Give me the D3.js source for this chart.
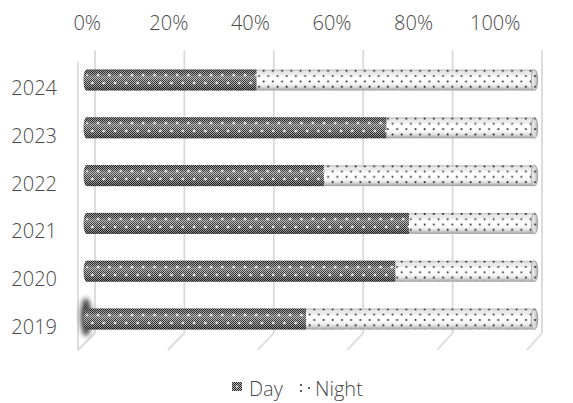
<!DOCTYPE html>
<html><head><meta charset="utf-8">
<script src="https://cdn.jsdelivr.net/npm/d3@7"></script>
<style>html,body{margin:0;padding:0;background:#fff;} svg{display:block;}</style>
</head><body>
<svg id="chart" width="573" height="403"></svg>
<script>
// Share of Day vs Night per year (percent of total)
const years = ["2019", "2020", "2021", "2022", "2023", "2024"];
const daySharePct = [49, 69, 72, 53, 67, 38];
const nightSharePct = [51, 31, 28, 47, 33, 62];
const pctTicks = [0, 20, 40, 60, 80, 100];
const seriesNames = ["Day", "Night"];

const svg = d3.select("#chart");
const FONT = "'Open Sans', Lato, sans-serif";
const FONT_SIZE = "20px";
const FONT_WEIGHT = 300;
const TEXT = "#484848";
const GRID = "#d9d9d9";

// 3D box: front plane, back wall, bars halfway in depth
const xFront = d3.scaleLinear().domain([0, 100]).range([78, 527]);
const xBack = d3.scaleLinear().domain([0, 100]).range([95, 542]);
const xBar = v => (xFront(v) + xBack(v)) / 2;
const xLabel = d3.scaleLinear().domain([0, 100]).range([86.7, 494.7]);
const rowOrder = years.slice().reverse();
const yFront = d3.scalePoint().domain(rowOrder).range([88, 327]);
const depthDy = -8;
const barH = 21;
const backTop = 50, backBottom = 333, frontTop = 62, frontBottom = 350;

// ---------- defs ----------
const defs = svg.append("defs");

const checker = defs.append("pattern").attr("id", "checker")
  .attr("patternUnits", "userSpaceOnUse").attr("width", 2).attr("height", 2);
checker.append("rect").attr("width", 2).attr("height", 2).attr("fill", "#b4b4b4");
checker.append("rect").attr("x", 0).attr("y", 0).attr("width", 1).attr("height", 1).attr("fill", "#2a2a2a");
checker.append("rect").attr("x", 1).attr("y", 1).attr("width", 1).attr("height", 1).attr("fill", "#2a2a2a");

const dayDots = defs.append("pattern").attr("id", "dayDots")
  .attr("patternUnits", "userSpaceOnUse").attr("width", 11.3).attr("height", 16);
dayDots.append("circle").attr("cx", 2).attr("cy", 3).attr("r", 1.3).attr("fill", "#fff");
dayDots.append("circle").attr("cx", 7.65).attr("cy", 11).attr("r", 1.3).attr("fill", "#fff");

const nightDots = defs.append("pattern").attr("id", "nightDots")
  .attr("patternUnits", "userSpaceOnUse").attr("width", 9.2).attr("height", 10.6);
nightDots.append("rect").attr("width", 9.2).attr("height", 10.6).attr("fill", "#fff");
nightDots.append("circle").attr("cx", 1.5).attr("cy", 2).attr("r", 1).attr("fill", "#111");
nightDots.append("circle").attr("cx", 6.1).attr("cy", 7.3).attr("r", 1).attr("fill", "#111");

// legend swatch pattern
const legNight = defs.append("pattern").attr("id", "legNight")
  .attr("patternUnits", "userSpaceOnUse").attr("x", 299).attr("y", 382)
  .attr("width", 14).attr("height", 12);
legNight.append("rect").attr("width", 14).attr("height", 12).attr("fill", "#fff");
legNight.append("circle").attr("cx", 2).attr("cy", 3).attr("r", 1).attr("fill", "#222");
legNight.append("circle").attr("cx", 2).attr("cy", 9).attr("r", 1).attr("fill", "#222");
legNight.append("circle").attr("cx", 10).attr("cy", 6).attr("r", 1).attr("fill", "#222");

// cylinder shading
const shade = defs.append("linearGradient").attr("id", "cyl")
  .attr("x1", 0).attr("y1", 0).attr("x2", 0).attr("y2", 1);
[[0, "#000", 0.25], [0.12, "#000", 0.08], [0.35, "#fff", 0.22], [0.55, "#fff", 0.05],
 [0.8, "#000", 0.1], [1, "#000", 0.38]].forEach(([o, c, a]) =>
  shade.append("stop").attr("offset", o).attr("stop-color", c).attr("stop-opacity", a));

const capShade = defs.append("linearGradient").attr("id", "capShade")
  .attr("x1", 0).attr("y1", 0).attr("x2", 1).attr("y2", 0);
[[0, "#000", 0.05], [0.6, "#000", 0.15], [1, "#000", 0.35]].forEach(([o, c, a]) =>
  capShade.append("stop").attr("offset", o).attr("stop-color", c).attr("stop-opacity", a));

defs.append("filter").attr("id", "soft").attr("x", "-100%").attr("y", "-50%")
  .attr("width", "300%").attr("height", "200%")
  .append("feGaussianBlur").attr("stdDeviation", 2.5);

// ---------- walls & gridlines ----------
const grid = svg.append("g").attr("stroke", GRID).attr("stroke-width", 1.8).attr("fill", "none");
grid.append("line")
  .attr("x1", xFront(0)).attr("y1", frontTop).attr("x2", xFront(0)).attr("y2", frontBottom);
pctTicks.forEach(t => {
  grid.append("line").attr("x1", xBack(t)).attr("y1", backTop).attr("x2", xBack(t)).attr("y2", backBottom);
  grid.append("line").attr("x1", xBack(t)).attr("y1", backBottom).attr("x2", xFront(t)).attr("y2", frontBottom);
});

// shadow on the side wall beside the first bar
svg.append("ellipse")
  .attr("cx", xFront(0) + 8).attr("cy", yFront("2019") + depthDy - 2)
  .attr("rx", 5.5).attr("ry", 19).attr("fill", "#333").attr("opacity", 0.9)
  .attr("filter", "url(#soft)");

// ---------- bars ----------
const bars = svg.append("g");
years.forEach((yr, i) => {
  const cy = yFront(yr) + depthDy;
  const top = cy - barH / 2;
  const x0 = xBar(0), xm = xBar(daySharePct[i]), x1 = xBar(daySharePct[i] + nightSharePct[i]);
  const g = bars.append("g");

  // rounded left end
  g.append("ellipse").attr("cx", x0).attr("cy", cy).attr("rx", 3).attr("ry", barH / 2).attr("fill", "url(#checker)");
  g.append("ellipse").attr("cx", x0).attr("cy", cy).attr("rx", 3).attr("ry", barH / 2).attr("fill", "url(#cyl)");

  // Day segment
  g.append("rect").attr("x", x0).attr("y", top).attr("width", xm - x0).attr("height", barH).attr("fill", "url(#checker)");
  g.append("rect").attr("x", x0).attr("y", top).attr("width", xm - x0).attr("height", barH).attr("fill", "url(#dayDots)");
  g.append("rect").attr("x", x0).attr("y", top).attr("width", xm - x0).attr("height", barH).attr("fill", "url(#cyl)");

  // Night segment
  g.append("rect").attr("x", xm).attr("y", top).attr("width", x1 - xm).attr("height", barH).attr("fill", "url(#nightDots)");
  g.append("rect").attr("x", xm).attr("y", top).attr("width", x1 - xm).attr("height", barH).attr("fill", "url(#cyl)");

  // end cap
  g.append("ellipse").attr("cx", x1).attr("cy", cy).attr("rx", 3.2).attr("ry", barH / 2).attr("fill", "url(#nightDots)");
  g.append("ellipse").attr("cx", x1).attr("cy", cy).attr("rx", 3.2).attr("ry", barH / 2)
    .attr("fill", "url(#capShade)").attr("stroke", "#9a9a9a").attr("stroke-width", 0.9);
});

// ---------- axes ----------
function styleText(sel) {
  sel.attr("fill", TEXT).style("font-family", FONT).style("font-size", FONT_SIZE).style("font-weight", FONT_WEIGHT);
}
const xAxis = svg.append("g").attr("transform", "translate(0,30)")
  .call(d3.axisTop(xLabel).tickValues(pctTicks).tickFormat(d => d + "%").tickSize(0).tickPadding(0));
xAxis.select(".domain").remove();
xAxis.selectAll("text").call(styleText);

const yAxis = svg.append("g").attr("transform", "translate(57,0)")
  .call(d3.axisLeft(yFront).tickSize(0).tickPadding(0));
yAxis.select(".domain").remove();
yAxis.selectAll("text").call(styleText);

// ---------- legend ----------
const legend = svg.append("g");
legend.append("rect").attr("x", 232).attr("y", 382).attr("width", 10).attr("height", 9).attr("fill", "url(#checker)");
legend.append("circle").attr("cx", 237).attr("cy", 386.5).attr("r", 0.9).attr("fill", "#fff");
legend.append("text").attr("x", 249).attr("y", 396).text(seriesNames[0]).call(styleText);
legend.append("rect").attr("x", 299).attr("y", 382).attr("width", 14).attr("height", 12).attr("fill", "url(#legNight)");
legend.append("text").attr("x", 315).attr("y", 396).text(seriesNames[1]).call(styleText);
</script>
</body></html>
